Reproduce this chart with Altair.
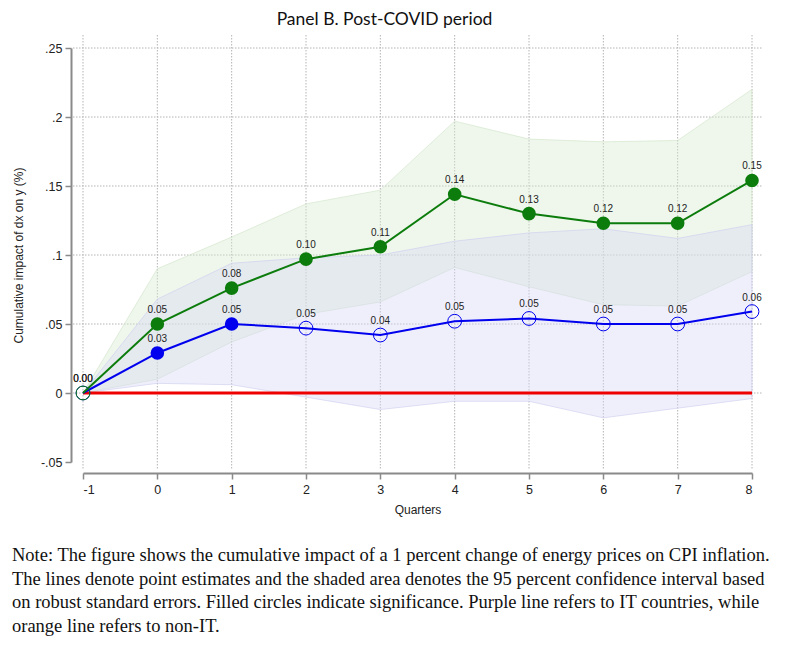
import altair as alt
import pandas as pd

# ---- data ----
QUARTERS = [-1, 0, 1, 2, 3, 4, 5, 6, 7, 8]

NONIT_EST = [0.0, 0.050, 0.076, 0.097, 0.106, 0.144, 0.130, 0.123, 0.123, 0.154]
NONIT_LO = [0.0, 0.010, 0.037, 0.057, 0.066, 0.091, 0.077, 0.064, 0.063, 0.088]
NONIT_HI = [0.0, 0.090, 0.113, 0.137, 0.147, 0.197, 0.184, 0.182, 0.183, 0.220]
NONIT_SIG = [0, 1, 1, 1, 1, 1, 1, 1, 1, 1]

IT_EST = [0.0, 0.029, 0.050, 0.047, 0.042, 0.052, 0.054, 0.050, 0.050, 0.059]
IT_LO = [0.0, 0.007, 0.006, -0.003, -0.012, -0.006, -0.006, -0.018, -0.011, -0.004]
IT_HI = [0.0, 0.068, 0.094, 0.098, 0.100, 0.110, 0.116, 0.119, 0.112, 0.122]
IT_SIG = [0, 1, 1, 0, 0, 0, 0, 0, 0, 0]

XTICKS = [-1, 0, 1, 2, 3, 4, 5, 6, 7, 8]
XTICK_LABELS = ["-1", "0", "1", "2", "3", "4", "5", "6", "7", "8"]
YTICKS = [-0.05, 0, 0.05, 0.1, 0.15, 0.2, 0.25]
YTICK_LABELS = ["-.05", "0", ".05", ".1", ".15", ".2", ".25"]
YGRID = [0, 0.05, 0.1, 0.15, 0.2, 0.25]

TITLE = "Panel B. Post-COVID period"
X_TITLE = "Quarters"
Y_TITLE = "Cumulative impact of dx on y (%)"
NOTE_LINES = [
    "Note: The figure shows the cumulative impact of a 1 percent change of energy prices on CPI inflation.",
    "The lines denote point estimates and the shaded area denotes the 95 percent confidence interval based",
    "on robust standard errors. Filled circles indicate significance. Purple line refers to IT countries, while",
    "orange line refers to non-IT.",
]

# ---- styling ----
W, H = 669, 414
GREEN = "#0c7c0c"
BLUE = "#0000ee"
RED = "#ee0000"
AXIS_GRAY = "#8a8a8a"
GRID_GRAY = "#b4b4b4"
SANS = "Liberation Sans"

nonit = pd.DataFrame({"q": QUARTERS, "est": NONIT_EST, "lo": NONIT_LO,
                      "hi": NONIT_HI, "sig": NONIT_SIG})
it = pd.DataFrame({"q": QUARTERS, "est": IT_EST, "lo": IT_LO,
                   "hi": IT_HI, "sig": IT_SIG})

xscale = alt.Scale(domain=[-1, 8], nice=False, zero=False)
yscale = alt.Scale(domain=[-0.05, 0.25], nice=False, zero=False)


def mapping_expr(values, labels):
    return " : ".join(
        f"datum.value == {v} ? '{l}'" for v, l in zip(values, labels)
    ) + " : datum.label"


XAXIS = alt.Axis(values=XTICKS, labelExpr=mapping_expr(XTICKS, XTICK_LABELS),
                 title=X_TITLE, grid=False,
                 offset=11, domainColor=AXIS_GRAY, domainWidth=2,
                 tickColor=AXIS_GRAY, tickWidth=1.5, tickSize=6,
                 labelPadding=4, labelFont=SANS, labelFontSize=12.5,
                 labelColor="#222", titleFont=SANS, titleFontSize=12,
                 titleFontWeight="normal", titleColor="#222", titlePadding=9)
YAXIS = alt.Axis(values=YTICKS, labelExpr=mapping_expr(YTICKS, YTICK_LABELS),
                 title=Y_TITLE, grid=False, offset=12, domainColor=AXIS_GRAY,
                 domainWidth=2, tickColor=AXIS_GRAY, tickWidth=1.5,
                 tickSize=6, labelPadding=3, labelFont=SANS,
                 labelFontSize=12.5, labelColor="#222",
                 titleFont=SANS, titleFontSize=12,
                 titleFontWeight="normal", titleColor="#222", titlePadding=15)


def X(field="q"):
    return alt.X(f"{field}:Q", scale=xscale, axis=XAXIS)


def Y(field):
    return alt.Y(f"{field}:Q", scale=yscale, axis=YAXIS)


# gridlines
hgrid = alt.Chart(pd.DataFrame({"g": YGRID})).mark_rule(
    color=GRID_GRAY, strokeWidth=1, strokeDash=[1.5, 1.5]
).encode(y=Y("g"), x=alt.value(-10), x2=alt.value(W + 10))
vgrid = alt.Chart(pd.DataFrame({"g": XTICKS})).mark_rule(
    color=GRID_GRAY, strokeWidth=1, strokeDash=[1.5, 1.5]
).encode(x=X("g"), y=alt.value(-13), y2=alt.value(H + 8))

# confidence bands
band_nonit = alt.Chart(nonit).mark_area(
    fill="#d8ebd0", fillOpacity=0.4, stroke="#cfe3c6", strokeOpacity=0.6, strokeWidth=1
).encode(x=X(), y=Y("lo"), y2="hi")
band_it = alt.Chart(it).mark_area(
    fill="#d6d6f6", fillOpacity=0.4, stroke="#ccccef", strokeOpacity=0.6, strokeWidth=1
).encode(x=X(), y=Y("lo"), y2="hi")

# zero line
zero = alt.Chart(pd.DataFrame({"a": [0]})).mark_rule(color=RED, strokeWidth=3).encode(
    x=alt.datum(XTICKS[0], scale=xscale, axis=XAXIS), x2=alt.datum(XTICKS[-1]),
    y=alt.datum(0, scale=yscale, axis=YAXIS))


def series(df, color):
    line = alt.Chart(df).mark_line(color=color, strokeWidth=2).encode(x=X(), y=Y("est"))
    filled = alt.Chart(df).transform_filter("datum.sig == 1").mark_point(
        shape="circle", filled=True, color=color, size=185, opacity=1
    ).encode(x=X(), y=Y("est"))
    hollow = alt.Chart(df).transform_filter("datum.sig == 0").mark_point(
        shape="circle", filled=False, color=color, size=190, strokeWidth=1, opacity=1
    ).encode(x=X(), y=Y("est"))
    labels = alt.Chart(df).mark_text(
        dy=-14, font=SANS, fontSize=10, color="#222", baseline="middle"
    ).encode(x=X(), y=Y("est"), text=alt.Text("est:Q", format=".2f"))
    return line, filled, hollow, labels


it_line, it_f, it_h, it_lab = series(it, BLUE)
no_line, no_f, no_h, no_lab = series(nonit, GREEN)

title = alt.Chart(pd.DataFrame({"t": [TITLE]})).mark_text(
    font="Lato", fontSize=17.5, color="#111", align="center", baseline="alphabetic"
).encode(text="t:N", x=alt.value(301.5), y=alt.value(-23))

note = alt.Chart(pd.DataFrame({"t": ["\n".join(NOTE_LINES)]})).mark_text(
    font="Liberation Serif", fontSize=18.5, color="#111", align="left",
    baseline="alphabetic", lineBreak="\n", lineHeight=23.5
).encode(text="t:N", x=alt.value(-71), y=alt.value(513))

chart = alt.layer(
    hgrid, vgrid, band_nonit, band_it, zero,
    it_line, no_line, it_f, it_h, no_f, no_h, it_lab, no_lab, title, note
).properties(
    width=W, height=H,
    autosize=alt.AutoSizeParams(type="none"),
    padding={"left": 75, "top": 40, "right": 20, "bottom": 183},
    background="white",
).configure_view(stroke=None)

chart.save("out.html", embed_options={"renderer": "svg", "actions": False})
